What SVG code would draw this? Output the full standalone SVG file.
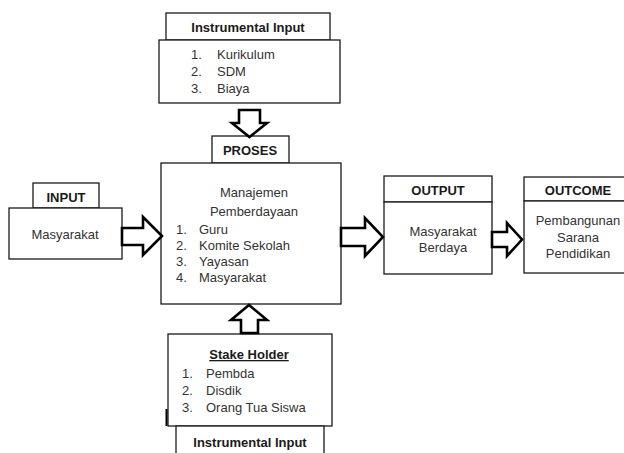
<svg xmlns="http://www.w3.org/2000/svg" width="624" height="453" viewBox="0 0 624 453">
<style>
.box{fill:#fff;stroke:#1a1a1a;stroke-width:1.3}
.arr{fill:#fff;stroke:#000;stroke-width:2.6;stroke-linejoin:miter}
text{font-family:"Liberation Sans",Arial,sans-serif;font-size:13px;fill:#333}
.b{font-weight:bold;fill:#1a1a1a}
.c{text-anchor:middle}
</style>
<rect width="624" height="453" fill="#fff"/>
<g id="instrumental-top">
<rect class="box" x="166" y="13" width="164" height="27"/>
<rect class="box" x="159" y="40" width="181" height="63"/>
<text class="b c" x="248" y="32">Instrumental Input</text>
<text x="191" y="59">1.</text><text x="217" y="59">Kurikulum</text>
<text x="191" y="76">2.</text><text x="217" y="76">SDM</text>
<text x="191" y="93">3.</text><text x="217" y="93">Biaya</text>
</g>
<g id="proses">
<rect class="box" x="212" y="136" width="77" height="27"/>
<rect class="box" x="161" y="163" width="180" height="141"/>
<text class="b c" x="250" y="155">PROSES</text>
<text class="c" x="254" y="197">Manajemen</text>
<text class="c" x="254" y="216">Pemberdayaan</text>
<text x="176" y="234">1.</text><text x="199" y="234">Guru</text>
<text x="176" y="250">2.</text><text x="199" y="250">Komite Sekolah</text>
<text x="176" y="266">3.</text><text x="199" y="266">Yayasan</text>
<text x="176" y="282">4.</text><text x="199" y="282">Masyarakat</text>
</g>
<g id="input">
<rect class="box" x="33" y="183" width="66" height="25"/>
<rect class="box" x="9" y="208" width="113" height="51"/>
<text class="b c" x="66" y="202">INPUT</text>
<text class="c" x="65" y="239">Masyarakat</text>
</g>
<g id="output">
<rect class="box" x="384" y="176" width="108" height="26"/>
<rect class="box" x="384" y="202" width="108" height="72"/>
<text class="b c" x="438" y="195">OUTPUT</text>
<text class="c" x="443" y="236">Masyarakat</text>
<text class="c" x="443" y="252">Berdaya</text>
</g>
<g id="outcome">
<rect class="box" x="524" y="177" width="104" height="24"/>
<rect class="box" x="524" y="201" width="104" height="72"/>
<text class="b c" x="578" y="195">OUTCOME</text>
<text class="c" x="578" y="225">Pembangunan</text>
<text class="c" x="578" y="242">Sarana</text>
<text class="c" x="578" y="258">Pendidikan</text>
</g>
<g id="stake-holder">
<rect class="box" x="168" y="334" width="164" height="92"/>
<line x1="166.5" y1="409" x2="166.5" y2="426" stroke="#000" stroke-width="2"/>
<text class="b c" x="249" y="359" text-decoration="underline">Stake Holder</text>
<text x="182" y="378">1.</text><text x="206" y="378">Pembda</text>
<text x="182" y="395">2.</text><text x="206" y="395">Disdik</text>
<text x="182" y="412">3.</text><text x="206" y="412">Orang Tua Siswa</text>
</g>
<g id="instrumental-bottom">
<rect class="box" x="176" y="426" width="148" height="30"/>
<text class="b c" x="250" y="447">Instrumental Input</text>
</g>
<g id="connectors">
<polygon class="arr" points="122,228 143,228 143,217 162,236 143,255 143,245 122,245"/>
<polygon class="arr" points="341,228 365,228 365,218 383,237 365,256 365,246 341,246"/>
<polygon class="arr" points="492,232 507,232 507,223 522,239.5 507,256 507,247 492,247"/>
<polygon class="arr" points="239,110 260,110 260,123 267,123 249.5,137 232,123 239,123"/>
<polygon class="arr" points="241,333 258,333 258,320 267,320 249,305 231,320 241,320"/>
</g>
</svg>
